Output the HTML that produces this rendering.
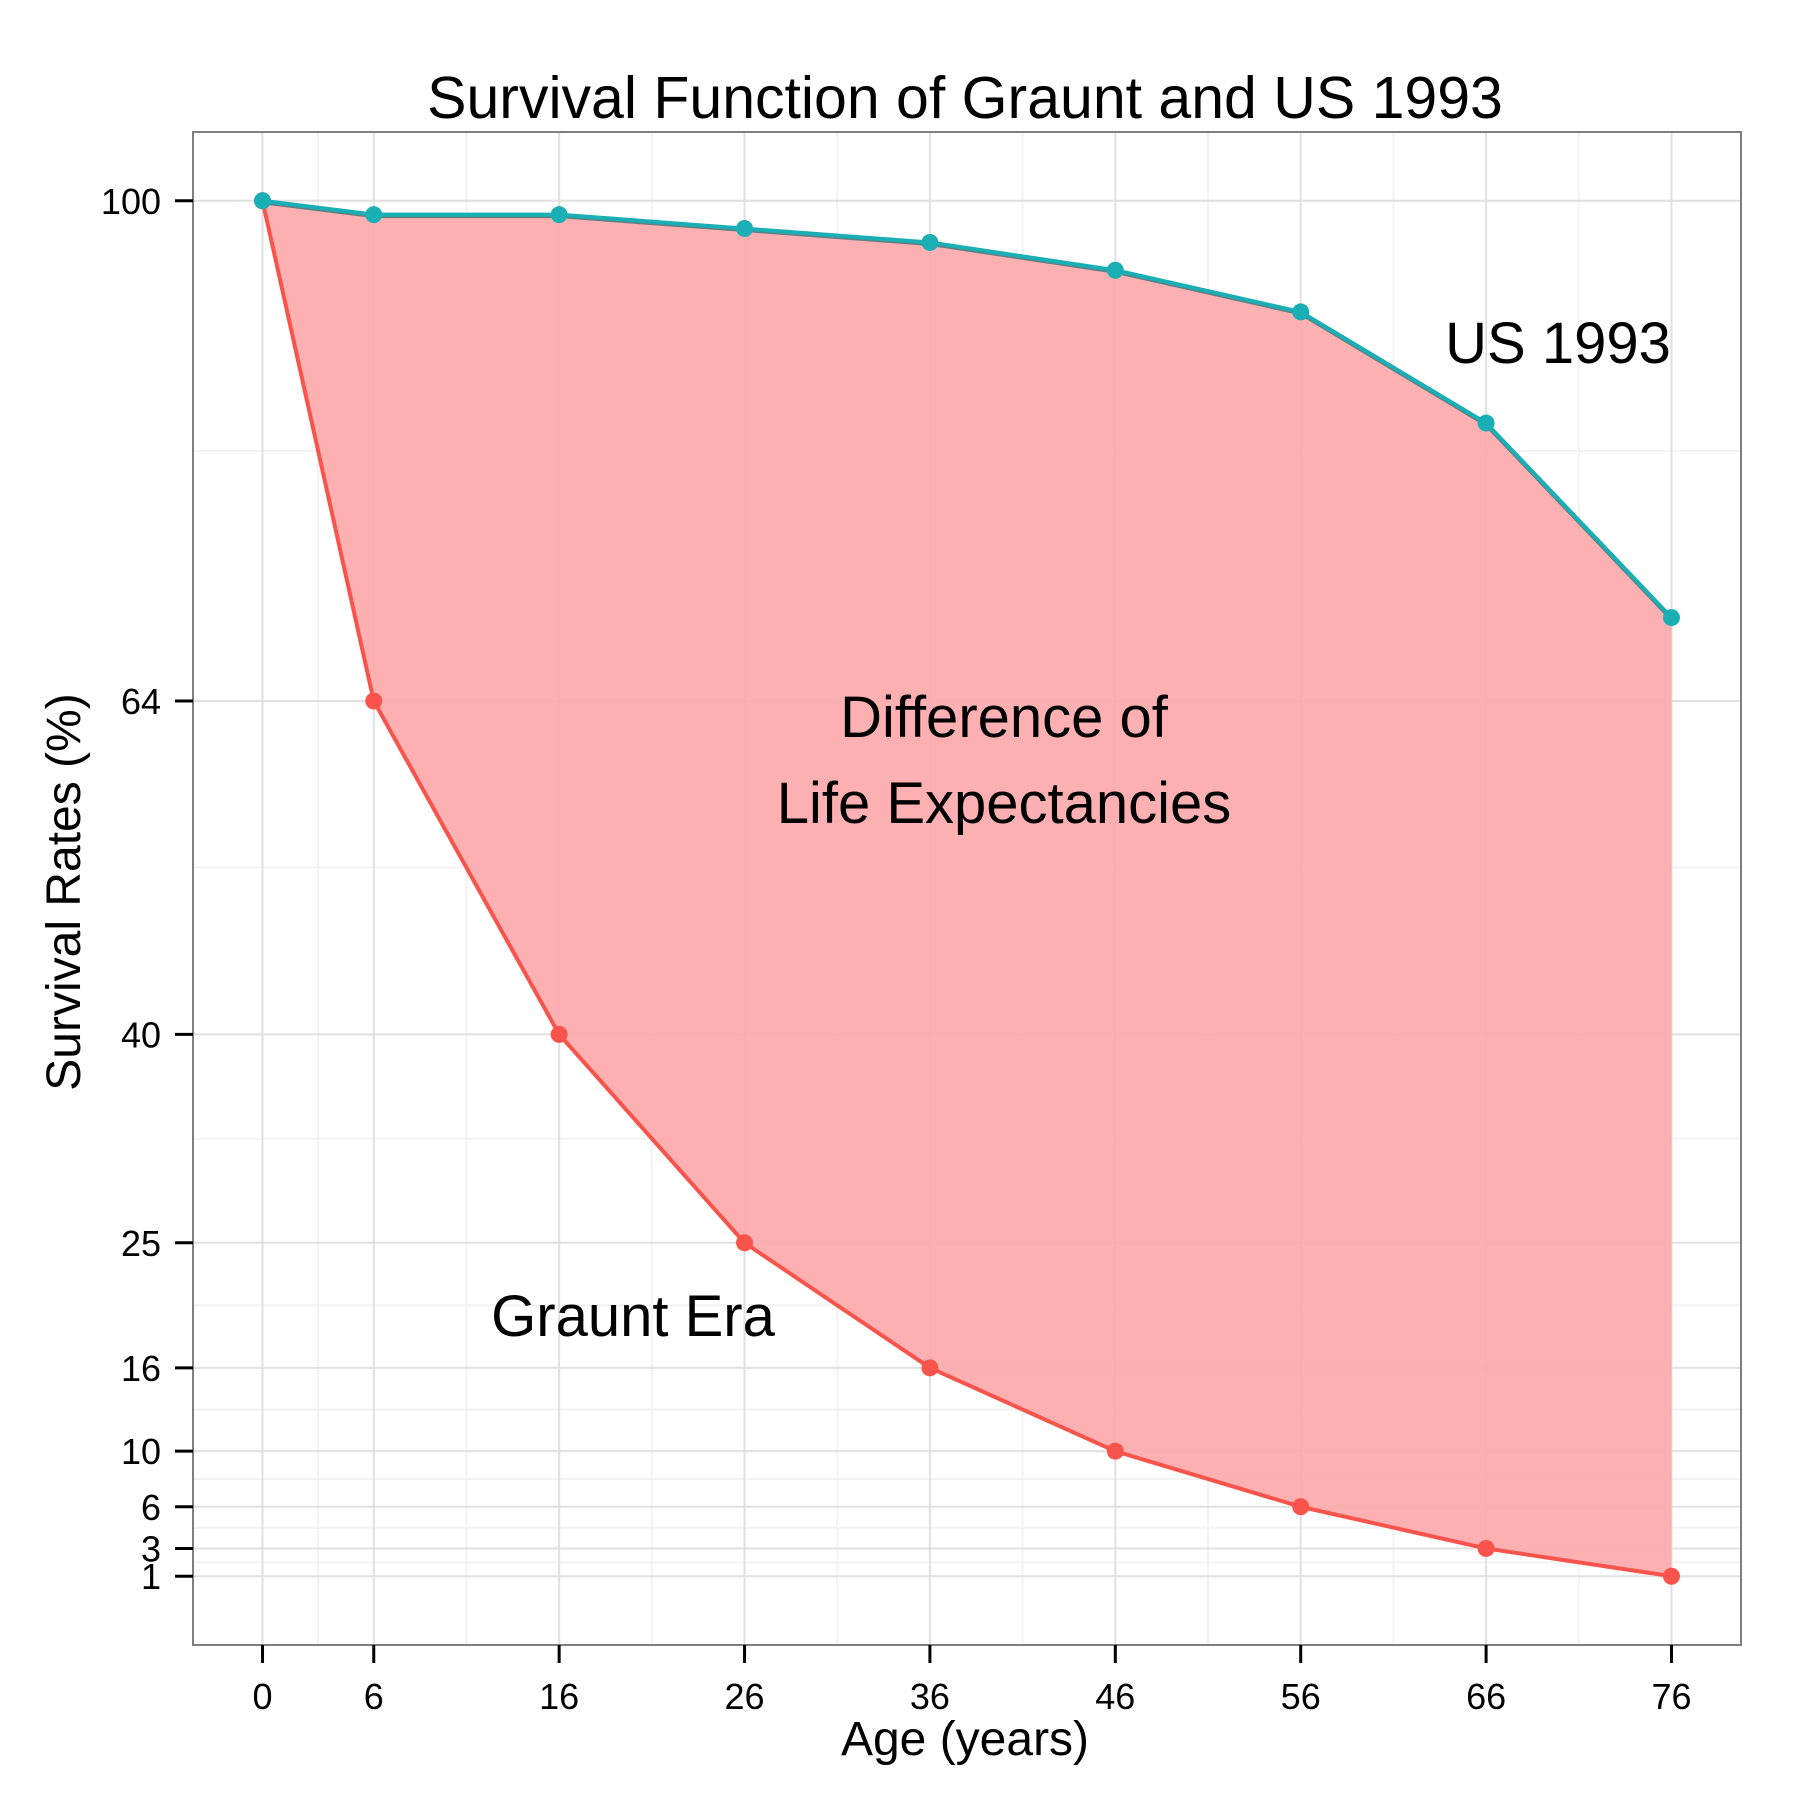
<!DOCTYPE html>
<html><head><meta charset="utf-8"><style>
html,body{margin:0;padding:0;background:#fff;}
svg{display:block;font-family:"Liberation Sans",Arial,sans-serif;}
</style></head><body>
<svg id="chart" width="1800" height="1800" viewBox="0 0 1800 1800" xmlns="http://www.w3.org/2000/svg">
<rect width="1800" height="1800" fill="#fff"/>
<g id="grid"></g>
<g id="marks"></g>
<rect x="193" y="132" width="1548" height="1513" fill="none" stroke="#7f7f7f" stroke-width="2"/>
<g id="axes"></g>
<text x="965" y="118" font-size="59" text-anchor="middle">Survival Function of Graunt and US 1993</text>
<text x="965" y="1755" font-size="48" text-anchor="middle">Age (years)</text>
<text transform="translate(80,892) rotate(-90)" font-size="48" text-anchor="middle">Survival Rates (%)</text>
<text x="1558" y="363" font-size="58" text-anchor="middle">US 1993</text>
<text x="1004" y="737" font-size="58" text-anchor="middle">Difference of</text>
<text x="1004" y="823" font-size="58" text-anchor="middle">Life Expectancies</text>
<text x="633" y="1336" font-size="58" text-anchor="middle">Graunt Era</text>
</svg>
<script>
const ages = [0, 6, 16, 26, 36, 46, 56, 66, 76];
const usSurvival = [100, 99, 99, 98, 97, 95, 92, 84, 70];
const grauntSurvival = [100, 64, 40, 25, 16, 10, 6, 3, 1];
const yTicks = [1, 3, 6, 10, 16, 25, 40, 64, 100];
const xMinor = [3, 11, 21, 31, 41, 51, 61, 71];
const yMinor = [2, 4.5, 8, 13, 20.5, 32.5, 52, 82];

const NS = "http://www.w3.org/2000/svg";
const L = 193, R = 1741, T = 132, B = 1645;
const xMin = -3.75, xMax = 79.75, yMin = -3.95, yMax = 104.95;
const xs = v => L + (v - xMin) / (xMax - xMin) * (R - L);
const ys = v => B - (v - yMin) / (yMax - yMin) * (B - T);
function mk(tag, attrs, parent) {
  const e = document.createElementNS(NS, tag);
  for (const k in attrs) e.setAttribute(k, attrs[k]);
  parent.appendChild(e);
  return e;
}
const grid = document.getElementById('grid');
const marks = document.getElementById('marks');
const axes = document.getElementById('axes');

xMinor.forEach(v => {
  const l = mk('line', {x1: xs(v), x2: xs(v), y1: T, y2: B, stroke: '#f2f2f2', 'stroke-width': 2}, grid);
  
  
});
yMinor.forEach(v => {
  const l = mk('line', {x1: L, x2: R, y1: ys(v), y2: ys(v), stroke: '#f2f2f2', 'stroke-width': 2}, grid);
  
  
});
ages.forEach(v => {
  const l = mk('line', {x1: xs(v), x2: xs(v), y1: T, y2: B, stroke: '#e0e0e0', 'stroke-width': 2}, grid);
  
  
  const t = mk('line', {x1: xs(v), x2: xs(v), y1: B, y2: B + 18, stroke: '#000', 'stroke-width': 3}, axes);
  
  
  const tx = mk('text', {x: xs(v), y: 1709, 'font-size': 36, 'text-anchor': 'middle'}, axes);
  tx.textContent = v;
  
  
});
yTicks.forEach(v => {
  const l = mk('line', {x1: L, x2: R, y1: ys(v), y2: ys(v), stroke: '#e0e0e0', 'stroke-width': 2}, grid);
  
  
  const t = mk('line', {x1: L - 18, x2: L, y1: ys(v), y2: ys(v), stroke: '#000', 'stroke-width': 3}, axes);
  
  
  const tx = mk('text', {x: 161, y: ys(v) + 13, 'font-size': 36, 'text-anchor': 'end'}, axes);
  tx.textContent = v;
  
  
});

let d = ages.map((a, i) => (i ? 'L' : 'M') + xs(a) + ',' + ys(usSurvival[i])).join(' ');
for (let i = ages.length - 1; i >= 0; i--) d += ' L' + xs(ages[i]) + ',' + ys(grauntSurvival[i]);
d += ' Z';
const rib = mk('path', {d: d, fill: '#fca9ab', 'fill-opacity': 0.92}, marks);



function series(vals, color, name, edge) {
  const pts = ages.map((a, i) => xs(a) + ',' + ys(vals[i])).join(' ');
  if (edge) {
    const e = mk('polyline', {points: ages.map((a, i) => xs(a) + ',' + (ys(vals[i]) + 1.5)).join(' '), fill: 'none', stroke: '#5f7f84', 'stroke-width': 4}, marks);
    
    
  }
  const pl = mk('polyline', {points: pts, fill: 'none', stroke: color, 'stroke-width': 4, 'stroke-linejoin': 'round'}, marks);
  
  
  ages.forEach((a, i) => {
    const c = mk('circle', {cx: xs(a), cy: ys(vals[i]), r: 8.5, fill: color}, marks);
    
    
  });
}
series(grauntSurvival, '#F8544C', 'graunt', false);
series(usSurvival, '#1AAFB4', 'us-1993', true);
</script>
</body></html>
